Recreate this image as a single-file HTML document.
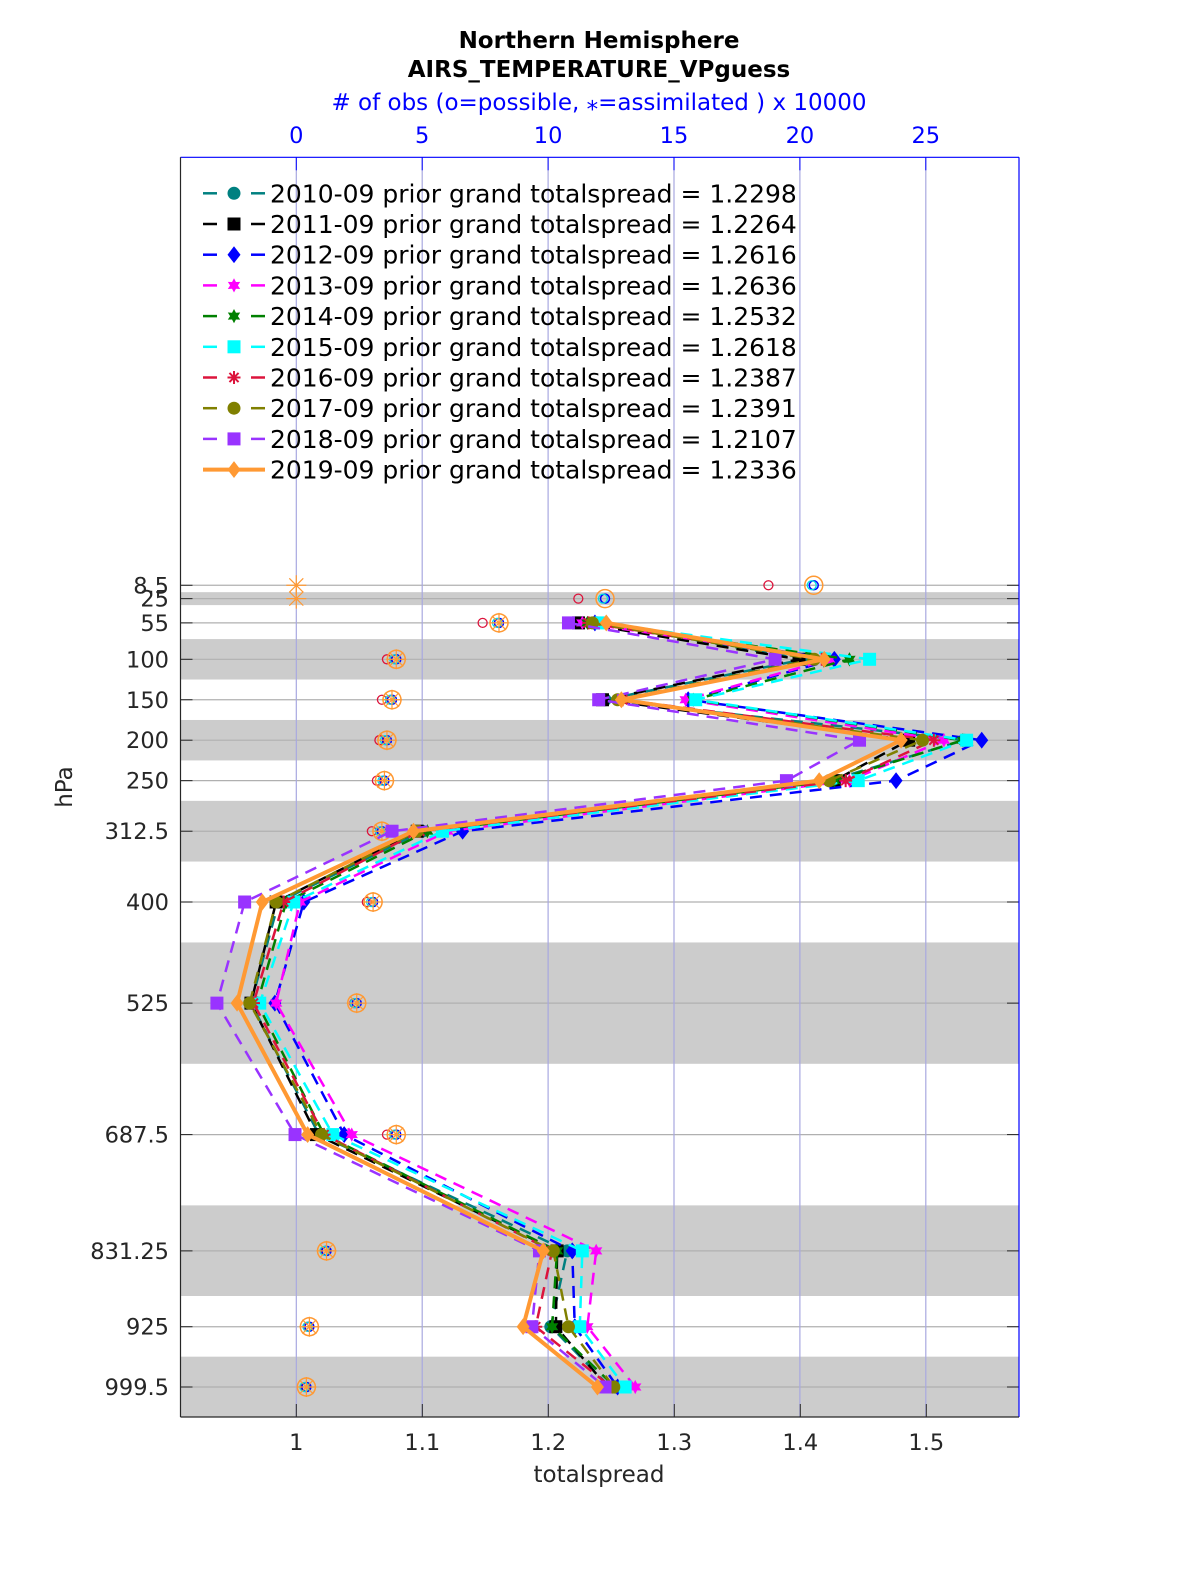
<!DOCTYPE html>
<html><head><meta charset="utf-8"><style>
html,body{margin:0;padding:0;background:#fff;overflow:hidden;width:100%;height:100%;}
svg{display:block;position:absolute;left:0;top:0;width:100vw;height:100vh;}
svg text{font-family:"DejaVu Sans","Liberation Sans",sans-serif;}
</style></head><body>
<svg id="chart" xmlns="http://www.w3.org/2000/svg" viewBox="0 0 1200 1575" preserveAspectRatio="none">
<text x="599" y="48" text-anchor="middle" font-size="23" font-weight="bold">Northern Hemisphere</text>
<text x="599" y="77" text-anchor="middle" font-size="23" font-weight="bold">AIRS_TEMPERATURE_VPguess</text>
<text x="599" y="110" text-anchor="middle" font-size="23" fill="#0000ff"># of obs (o=possible, ⁎=assimilated ) x 10000</text>
<g id="bands"></g>
<g id="grid"></g>
<g id="obs"></g>
<g id="series"></g>
<g id="axes"></g>
<g id="legend"></g>
<text x="599" y="1482" text-anchor="middle" font-size="23" fill="#262626">totalspread</text>
<text x="72" y="787" text-anchor="middle" font-size="23" fill="#262626" transform="rotate(-90 72 787)">hPa</text>
</svg>
<script>
const levels = [8.5,25,55,100,150,200,250,312.5,400,525,687.5,831.25,925,999.5];
const dataLevels = [55,100,150,200,250,312.5,400,525,687.5,831.25,925,999.5];
const bandEdges = [[17,33],[75,125],[175,225],[275,350],[450,600],[775,887],[962,1037]];
const xTicks = [1,1.1,1.2,1.3,1.4,1.5];
const xTickLabels = ["1","1.1","1.2","1.3","1.4","1.5"];
const topTicks = [0,5,10,15,20,25];
const seriesNames = ["2010-09","2011-09","2012-09","2013-09","2014-09","2015-09","2016-09","2017-09","2018-09","2019-09"];
const seriesTotals = ["1.2298","1.2264","1.2616","1.2636","1.2532","1.2618","1.2387","1.2391","1.2107","1.2336"];
const s2010 = [1.239,1.403,1.245,1.530,1.423,1.100,0.986,0.964,1.018,1.215,1.202,1.249];
const s2011 = [1.224,1.399,1.243,1.486,1.427,1.096,0.984,0.964,1.016,1.207,1.206,1.247];
const s2012 = [1.237,1.427,1.311,1.544,1.476,1.132,1.006,0.983,1.038,1.219,1.221,1.255];
const s2013 = [1.227,1.423,1.309,1.514,1.439,1.120,1.003,0.984,1.044,1.238,1.231,1.269];
const s2014 = [1.231,1.439,1.315,1.529,1.427,1.104,0.992,0.969,1.022,1.207,1.203,1.253];
const s2015 = [1.242,1.455,1.317,1.532,1.446,1.116,0.998,0.971,1.029,1.227,1.225,1.261];
const s2016 = [1.232,1.417,1.259,1.506,1.436,1.098,0.990,0.966,1.022,1.203,1.190,1.250];
const s2017 = [1.235,1.411,1.255,1.497,1.423,1.096,0.984,0.963,1.020,1.204,1.216,1.252];
const s2018 = [1.216,1.380,1.240,1.447,1.389,1.076,0.959,0.937,0.999,1.193,1.187,1.245];
const s2019 = [1.246,1.419,1.258,1.480,1.415,1.093,0.973,0.953,1.009,1.196,1.180,1.239];
const obsPossible = [20.55,12.26,8.05,3.97,3.8,3.6,3.5,3.4,3.05,2.4,3.97,1.2,0.52,0.4];
const obsAssim = [0,0,8.05,3.97,3.8,3.6,3.5,3.4,3.05,2.4,3.97,1.2,0.52,0.4];
const obsPossible2016 = [18.75,11.2,7.4,3.6,3.4,3.3,3.2,3.0,2.8,2.3,3.6,1.15,0.45,0.35];

const NS="http://www.w3.org/2000/svg";
const L=180.5,R=1019,T=157.3,B=1417;
const xs=v=>296.3+(v-1)*1260;
const xt=n=>296.3+n*25.18;
const ys=p=>659.3+(p-100)*0.809;
function mk(tag,attrs,parent){const e=document.createElementNS(NS,tag);for(const k in attrs)e.setAttribute(k,attrs[k]);parent.appendChild(e);return e;}
const gB=document.getElementById('bands'),gG=document.getElementById('grid'),gO=document.getElementById('obs'),gS=document.getElementById('series'),gA=document.getElementById('axes'),gL=document.getElementById('legend');

bandEdges.forEach(b=>{const r=mk('rect',{x:L,y:ys(b[0]),width:R-L,height:ys(b[1])-ys(b[0]),fill:'#cccccc'},gB);

});
levels.forEach(p=>{const l=mk('line',{x1:L,x2:R,y1:ys(p),y2:ys(p),stroke:'#b0b0b0','stroke-width':1.2},gG);


const t=mk('text',{x:169,y:ys(p)+8,'text-anchor':'end','font-size':22.5,fill:'#262626'},gA);t.textContent=String(p);


mk('line',{x1:L,x2:L+12,y1:ys(p),y2:ys(p),stroke:'#262626'},gA);mk('line',{x1:R,x2:R-12,y1:ys(p),y2:ys(p),stroke:'#262626'},gA);});
topTicks.forEach(n=>{const l=mk('line',{x1:xt(n),x2:xt(n),y1:T,y2:B,stroke:'#a8a8e0','stroke-width':1.2},gG);


const t=mk('text',{x:xt(n),y:143,'text-anchor':'middle','font-size':22.5,fill:'#0000ff'},gA);t.textContent=String(n);


mk('line',{x1:xt(n),x2:xt(n),y1:T,y2:T+13,stroke:'#0000ff'},gA);});
xTicks.forEach((v,i)=>{const t=mk('text',{x:xs(v),y:1450,'text-anchor':'middle','font-size':22.5,fill:'#262626'},gA);t.textContent=xTickLabels[i];


mk('line',{x1:xs(v),x2:xs(v),y1:B,y2:B-13,stroke:'#262626'},gA);});
mk('line',{x1:L,x2:R,y1:T,y2:T,stroke:'#0000ff','stroke-width':1.2},gA);
mk('line',{x1:R,x2:R,y1:T,y2:B,stroke:'#0000ff','stroke-width':1.2},gA);
mk('line',{x1:L,x2:R,y1:B,y2:B,stroke:'#262626','stroke-width':1.2},gA);
mk('line',{x1:L,x2:L,y1:T,y2:B,stroke:'#262626','stroke-width':1.2},gA);

levels.forEach((p,i)=>{const y=ys(p);
const c1=mk('circle',{cx:xt(obsPossible2016[i]),cy:y,r:4.5,fill:'none',stroke:'#dc143c','stroke-width':1.3},gO);


const c2=mk('circle',{cx:xt(obsPossible[i]),cy:y,r:4.5,fill:'none',stroke:'#0000ff','stroke-width':1.5},gO);


mk('circle',{cx:xt(obsPossible[i])-2,cy:y,r:4.5,fill:'none',stroke:'#00e0e0','stroke-width':1.3},gO);
const c3=mk('circle',{cx:xt(obsPossible[i]),cy:y,r:9,fill:'none',stroke:'#ff9933','stroke-width':1.5},gO);


const ax=xt(obsAssim[i]);
const a=mk('path',{d:`M${ax-10},${y}H${ax+10}M${ax},${y-10}V${y+10}M${ax-7},${y-7}L${ax+7},${y+7}M${ax-7},${y+7}L${ax+7},${y-7}`,stroke:'#ff9933','stroke-width':1.2,fill:'none'},gO);

});

const allSeries=[s2010,s2011,s2012,s2013,s2014,s2015,s2016,s2017,s2018,s2019];
const colors=['#008080','#000000','#0000ff','#ff00ff','#008000','#00ffff','#dc143c','#808000','#9933ff','#ff9933'];
const markers=['circle','square','diamond','hex','hex','square','star','circle','square','diamond'];
function marker(type,x,y,c,g,s){
 if(type==='circle')return mk('circle',{cx:x,cy:y,r:s,fill:c},g);
 if(type==='square')return mk('rect',{x:x-s,y:y-s,width:2*s,height:2*s,fill:c},g);
 if(type==='diamond')return mk('path',{d:`M${x},${y-s*1.3}L${x+s},${y}L${x},${y+s*1.3}L${x-s},${y}Z`,fill:c},g);
 if(type==='hex'){let d='';for(let k=0;k<12;k++){const r=k%2?s*0.6:s*1.1;const a=k*Math.PI/6-Math.PI/2;d+=(k?'L':'M')+(x+r*Math.cos(a))+','+(y+r*Math.sin(a));}return mk('path',{d:d+'Z',fill:c},g);}
 return mk('path',{d:`M${x-s},${y}H${x+s}M${x},${y-s}V${y+s}M${x-s*.7},${y-s*.7}L${x+s*.7},${y+s*.7}M${x-s*.7},${y+s*.7}L${x+s*.7},${y-s*.7}`,stroke:c,'stroke-width':2},g);
}
allSeries.forEach((arr,si)=>{const last=si===9;
const pts=arr.map((v,i)=>xs(v)+','+ys(dataLevels[i])).join(' ');
const pl=mk('polyline',{points:pts,fill:'none',stroke:colors[si],'stroke-width':last?4:2.5,'stroke-dasharray':last?'none':'12,8'},gS);


arr.forEach((v,i)=>{const m=marker(markers[si],xs(v),ys(dataLevels[i]),colors[si],gS,6.5);

});
const ly=193.3+30.7*si;
const lg=mk('g',{},gL);


if(last)mk('line',{x1:203,x2:265,y1:ly,y2:ly,stroke:colors[si],'stroke-width':4},lg);
else{mk('line',{x1:203,x2:217,y1:ly,y2:ly,stroke:colors[si],'stroke-width':2.5},lg);mk('line',{x1:251,x2:265,y1:ly,y2:ly,stroke:colors[si],'stroke-width':2.5},lg);}
marker(markers[si],234,ly,colors[si],lg,6.5);
const t=mk('text',{x:270,y:ly+9,'font-size':25,fill:'#000'},lg);t.textContent=seriesNames[si]+' prior grand totalspread = '+seriesTotals[si];
});
</script>
</body></html>
